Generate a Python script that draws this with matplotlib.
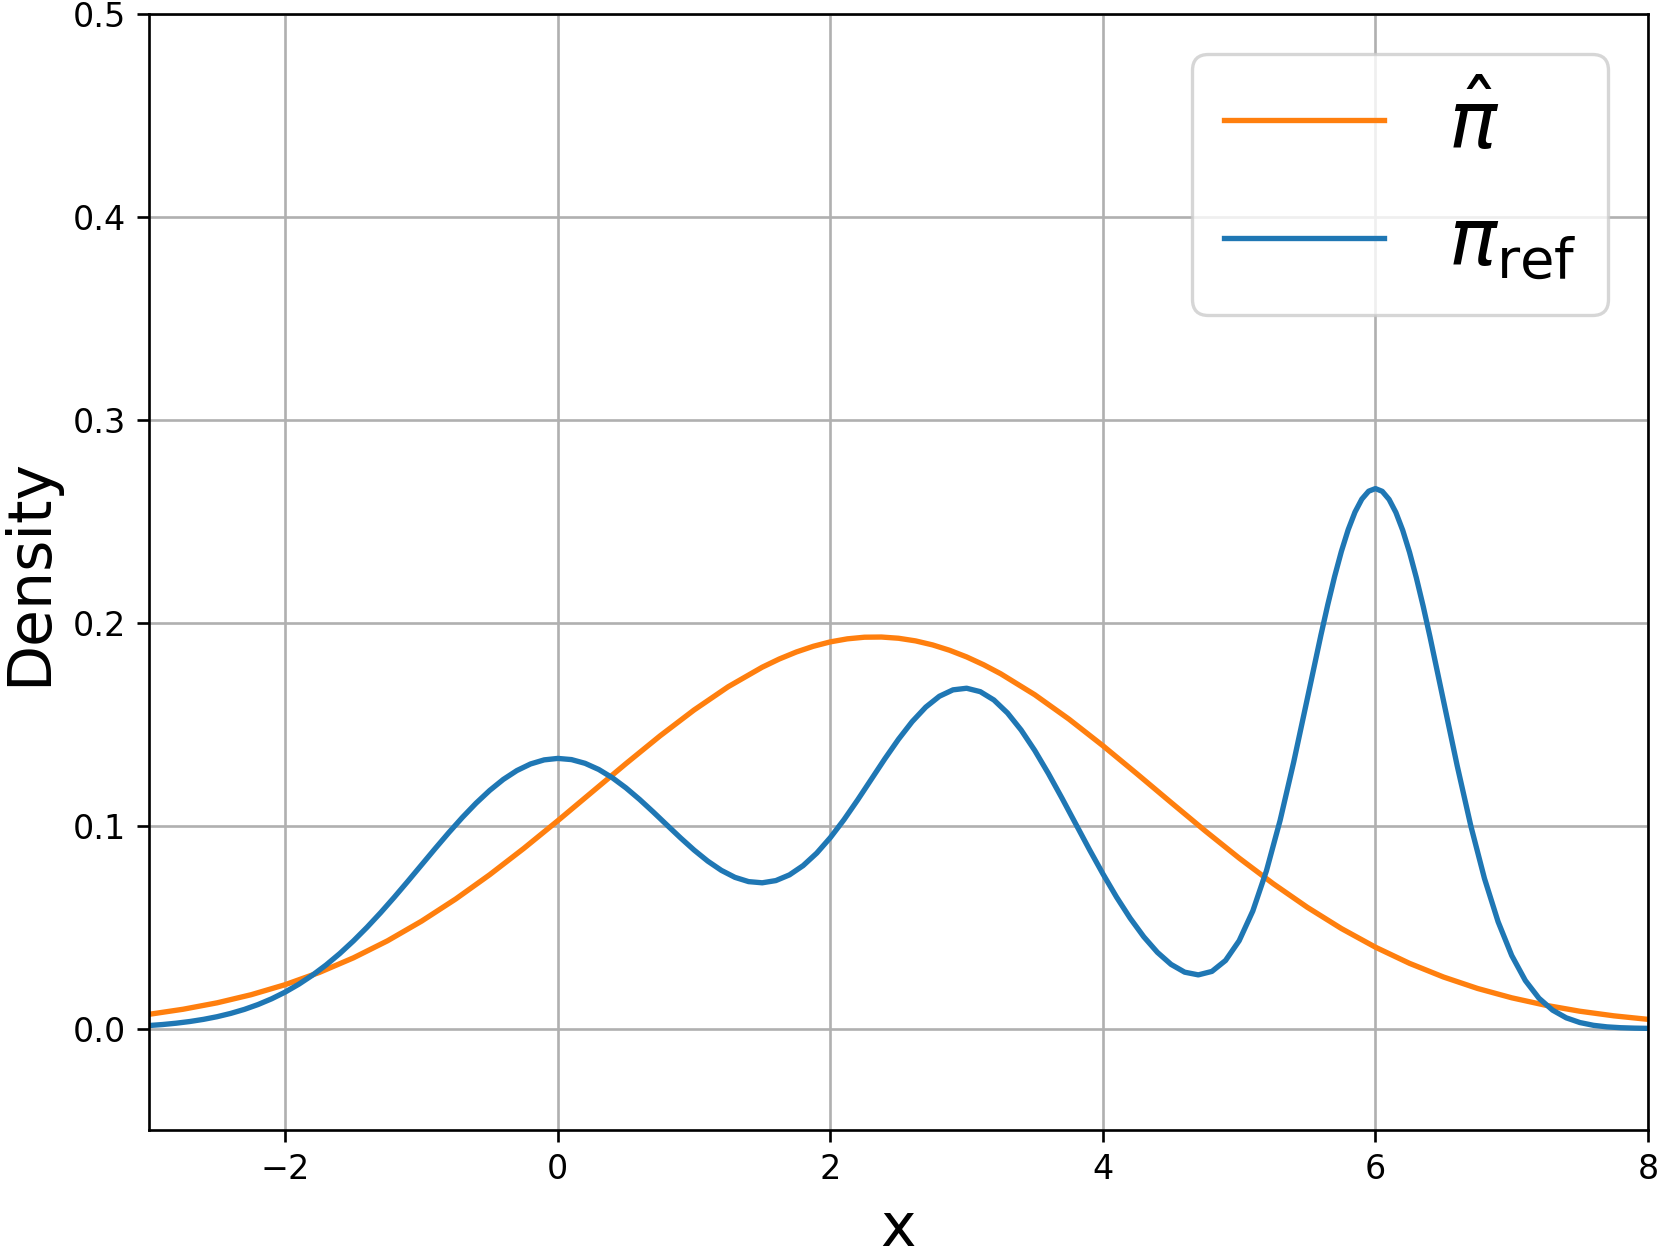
import matplotlib
matplotlib.use("Agg")
import matplotlib.pyplot as plt

# fitted density pi_hat
hat_x = [-3.0, -2.75, -2.5, -2.25, -2.0, -1.75, -1.5, -1.25, -1.0, -0.75, -0.5, -0.25,
         0.0, 0.25, 0.5, 0.75, 1.0, 1.25, 1.5, 1.625, 1.75, 1.875, 2.0, 2.125,
         2.25, 2.375, 2.5, 2.625, 2.75, 2.875, 3.0, 3.125, 3.25, 3.5, 3.75,
         4.0, 4.25, 4.5, 4.75, 5.0, 5.25, 5.5, 5.75,
         6.0, 6.25, 6.5, 6.75, 7.0, 7.25, 7.5, 7.75, 8.0]
hat_y = [0.00701, 0.00951, 0.01268, 0.01668, 0.02164, 0.02765, 0.03484, 0.04323,
         0.05292, 0.06381, 0.07581, 0.08876, 0.10244, 0.11650, 0.13056, 0.14423,
         0.15700, 0.16845, 0.17808, 0.18212, 0.18557, 0.18839, 0.19057, 0.19206,
         0.19286, 0.19295, 0.19235, 0.19105, 0.18907, 0.18642, 0.18315, 0.17928,
         0.17485, 0.16451, 0.15253,
         0.13939, 0.12553, 0.11142, 0.09745, 0.08399, 0.07137, 0.05975, 0.04929,
         0.04009, 0.03213, 0.02538, 0.01974, 0.01515, 0.01146, 0.00853, 0.00626,
         0.00453]

# reference density pi_ref
ref_x = [-3.0, -2.9, -2.8, -2.7, -2.6, -2.5, -2.4, -2.3, -2.2, -2.1,
         -2.0, -1.9, -1.8, -1.7, -1.6, -1.5, -1.4, -1.3, -1.2, -1.1,
         -1.0, -0.9, -0.8, -0.7, -0.6, -0.5, -0.4, -0.3, -0.2, -0.1,
         0.0, 0.1, 0.2, 0.3, 0.4, 0.5, 0.6, 0.7, 0.8, 0.9,
         1.0, 1.1, 1.2, 1.3, 1.4, 1.5, 1.6, 1.7, 1.8, 1.9,
         2.0, 2.1, 2.2, 2.3, 2.4, 2.5, 2.6, 2.7, 2.8, 2.9,
         3.0, 3.1, 3.2, 3.3, 3.4, 3.5, 3.6, 3.7, 3.8, 3.9,
         4.0, 4.1, 4.2, 4.3, 4.4, 4.5, 4.6, 4.7, 4.8, 4.9,
         5.0, 5.1, 5.2, 5.3, 5.4, 5.5, 5.6, 5.65, 5.7, 5.75, 5.8, 5.85, 5.9, 5.95,
         6.0, 6.05, 6.1, 6.15, 6.2, 6.25, 6.3, 6.35, 6.4, 6.5, 6.6, 6.7, 6.8, 6.9,
         7.0, 7.1, 7.2, 7.3, 7.4, 7.5, 7.6, 7.7, 7.8, 7.9, 8.0]
ref_y = [0.00148, 0.00198, 0.00264, 0.00347, 0.00453, 0.00584, 0.00747, 0.00944,
         0.01183, 0.01466,
         0.01800, 0.02187, 0.02632, 0.03135, 0.03697, 0.04317, 0.04991, 0.05712,
         0.06473, 0.07262,
         0.08066, 0.08870, 0.09656, 0.10408, 0.11107, 0.11735, 0.12278, 0.12716,
         0.13040, 0.13241,
         0.13313, 0.13255, 0.13071, 0.12769, 0.12360, 0.11861, 0.11292, 0.10675,
         0.10035, 0.09400,
         0.08796, 0.08252, 0.07796, 0.07451, 0.07241, 0.07183, 0.07292, 0.07574,
         0.08029, 0.08646,
         0.09411, 0.10294, 0.11265, 0.12280, 0.13295, 0.14258, 0.15123, 0.15841,
         0.16376, 0.16692,
         0.16771, 0.16603, 0.16192, 0.15551, 0.14711, 0.13703, 0.12568, 0.11350,
         0.10092, 0.08835,
         0.07624, 0.06479, 0.05438, 0.04521, 0.03754, 0.03162, 0.02778, 0.02645,
         0.02816, 0.03355,
         0.04329, 0.05793, 0.07774, 0.10249, 0.13131, 0.16257, 0.19398, 0.20886,
         0.22271, 0.23516, 0.24587, 0.25455, 0.26092, 0.26482,
         0.26611, 0.26475, 0.26078, 0.25433, 0.24557, 0.23475, 0.22218, 0.20820,
         0.19313, 0.16131, 0.12946, 0.09982, 0.07395, 0.05263,
         0.03599, 0.02365, 0.01493, 0.00906, 0.00528, 0.00296, 0.00159, 0.00082,
         0.00041, 0.00020, 0.00009]

fig = plt.figure(figsize=(1660 / 240, 1259 / 240), dpi=240)
ax = fig.add_axes([149 / 1660, 1 - 1130 / 1259, 1499 / 1660, 1116 / 1259])

ax.plot(hat_x, hat_y, color="#ff7f0e", lw=1.6, label=r"$\hat{\pi}$")
ax.plot(ref_x, ref_y, color="#1f77b4", lw=1.6, label=r"$\pi_{\mathrm{ref}}$")

ax.set_xlim(-3, 8)
ax.set_ylim(-0.05, 0.5)
ax.set_yticks([0.0, 0.1, 0.2, 0.3, 0.4, 0.5])
ax.grid(True)
ax.tick_params(labelsize=10)
ax.set_xlabel("x", fontsize=18)
ax.set_ylabel("Density", fontsize=18)
ax.legend(loc="upper right", fontsize=24)

fig.savefig("out.png", dpi=240)
